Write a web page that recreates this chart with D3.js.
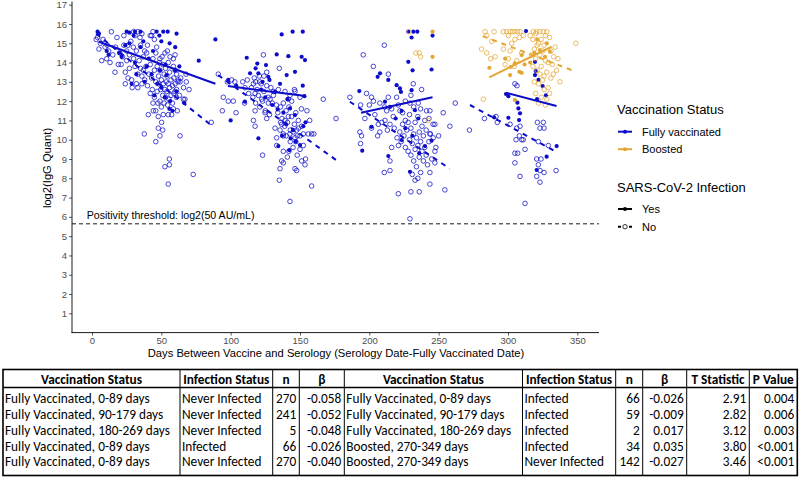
<!DOCTYPE html>
<html><head><meta charset="utf-8">
<script src="https://cdn.jsdelivr.net/npm/d3@7"></script>
<style>body{margin:0;background:#fff}</style>
</head><body>
<svg id="c" width="800" height="477" xmlns="http://www.w3.org/2000/svg"></svg>
<script>
// ---------- DATA ----------
const xTicks = [0, 50, 100, 150, 200, 250, 300, 350];
const yTicks = [1,2,3,4,5,6,7,8,9,10,11,12,13,14,15,16,17];
const thresholdValue = 5.64; // log2(50)
const thresholdLabel = "Positivity threshold: log2(50 AU/mL)";
const xTitle = "Days Between Vaccine and Serology (Serology Date-Fully Vaccinated Date)";
const yTitle = "log2(IgG Quant)";

// Fully vaccinated, not infected (hollow blue)
const fullyNoPoints = [
[3,15.2],[6,15.0],[8,15.2],[9.4,14.8],[14,15.6],[18,15.3],[7,14.1],[10.6,14.2],[13,14.0],[16.6,13.5],[12,14.6],[22,14.3],[25,14.1],[25,14.6],[29.8,14.8],[31,13.8],[28.6,13.1],[32,12.9],[33,12.7],[29,12.7],[36,13.3],[37,13.6],[38,14.6],[39.4,14.5],[42,15.4],[43,15.4],[44,15.6],[45,15.2],[46.6,14.8],[34.6,15.3],[49,14.2],[52.6,14.5],[54.3,14.6],[56.3,14.3],[58.7,14.2],[59.9,14.4],[58.7,13.8],[61,13.4],[62.3,13.1],[63.5,13.0],[67.8,13.4],[59.9,12.5],[61,12.2],[65.9,12.1],[58.7,11.6],[61.5,11.5],[57.5,11.3],[55,11.3],[51.4,11.3],[47.8,11.2],[44.2,11.5],[40.6,11.3],[50.2,10.9],[47.8,10.6],[51,10.5],[49,10.2],[37.7,10.3],[46,9.9],[63.5,10.2],[55.8,9.0],[52.6,8.6],[55.8,8.7],[73,8.2],[55,7.7],[67,12.1],[86,10.9],
[20,14.5],[21,13.9],[23,14.9],[24,13.5],[26,14.9],[27,14.4],[27,13.7],[28,15.1],[30,14.2],[31,15.4],[32,14.6],[33,13.4],[34,14.1],[35,14.9],[36,12.9],[37,14.3],[38,13.1],[39,13.8],[40,14.9],[41,13.4],[40,12.8],[35,13.7],[30,15.6],[33,15.6],[36,15.5],[26,13.2],[24,12.9],[23,15.4],[19,13.9],[17,14.8],[15,14.4],[11,14.9],[5,14.7],[4,15.3],
[42,13.9],[43,13.2],[43.5,12.6],[44,14.2],[45,13.6],[45,12.2],[46,13.0],[46,14.5],[47,12.5],[47,13.8],[47.5,11.9],[48,13.3],[48,12.9],[48.5,14.0],[49,12.0],[49,13.6],[49.5,12.6],[50,13.1],[50,11.7],[50.5,14.3],[51,12.3],[51,13.9],[51.5,12.9],[52,13.4],[52,11.9],[52.5,12.6],[53,13.7],[53,12.2],[53.5,13.0],[54,12.5],[54,13.3],[54.5,11.8],[55,12.9],[55,14.0],[55.5,12.1],[56,13.5],[56,12.7],[57,12.3],[57,13.1],[58,12.8],[58,11.9],[59,13.2],[59,12.4],[60,12.9],[60,13.6],[61,12.6],[62,13.0],[63,12.3],[64,13.2],[66,12.7],[68,13.0],[70,12.6],[44,11.9],[46,11.5],[42,12.4],
[91.1,13.4],[97.6,13.0],[100.7,13.1],[103,13.0],[94.7,12.2],[98.3,12.0],[101.9,12.0],[94,11.5],[103.9,11.4],[108.7,13.0],[110.3,12.7],[116.4,12.9],[123.6,14.4],[120.7,13.3],[117.6,12.4],[117.6,11.5],[116.4,11.0],[117.6,10.7],[122.4,12.1],[124.8,11.4],[126,11.1],[127.2,11.9],[128.4,12.1],[130.8,12.3],[134.4,12.6],[135.1,13.7],[139.2,12.5],[142.8,12.3],[146.4,12.5],[141.6,12.1],[132,10.6],[135.6,10.5],[138,10.2],[133.2,10.1],[136.8,10.8],[139.2,11.0],[141.6,11.2],[142.8,10.3],[146.4,10.1],[147.6,10.5],[150,10.2],[152.4,10.3],[156,10.3],[158.4,10.3],[148.8,11.0],[151.2,10.7],[152.4,9.7],[138,9.4],[140.9,9.1],[136.8,8.9],[138,8.8],[135.6,8.5],[146.4,8.5],[147.6,8.4],[151.2,8.9],[153.6,8.7],[135.1,7.9],[158.4,7.6],[142.8,6.8],[166.8,12.1],[176,11.1],[123,9.2],[133.2,9.7],
[115,12.7],[116,12.2],[117,13.2],[118,11.9],[119,12.6],[120,12.3],[121,11.7],[122,12.9],[123,12.0],[124,12.5],[125,11.5],[126,12.8],[127,12.2],[128,11.3],[129,12.7],[130,11.9],[118,13.0],[121,13.0],[124,13.3],[113,12.4],[112,13.1],[110,11.9],[126,13.5],[131,12.5],[133,11.8],[134,11.4],[136,11.7],[137,11.1],[138,11.9],[139,10.7],[140,11.5],[140,10.2],[141,10.9],[142,11.7],[143,10.5],[143,9.9],[144,11.2],[145,10.4],[145,9.6],[146,10.8],[147,11.4],[147,9.9],[148,10.2],[149,10.6],[150,9.5],[151,11.6],[144,12.0],[138,10.3],[136,10.9],[148,9.2],[142,9.4],[146,12.6],[150,12.2],[155,11.5],[157,11.0],[160,10.3],[154,9.0],
[186,12.2],[195.6,14.4],[202.9,13.8],[210.8,14.9],[213.7,13.4],[193.7,11.8],[196.8,11.1],[193.2,10.4],[194.4,10.2],[193.7,9.8],[201.6,10.6],[206.5,10.8],[207.6,10.4],[211.3,11.0],[214.9,10.8],[217.3,11.2],[220.9,11.8],[222.1,11.5],[201.6,12.2],[207.6,11.9],[212.5,11.5],[216.1,11.6],[213.7,12.2],[219.7,12.2],[231.7,12.9],[237.7,12.6],[229.3,11.9],[235.3,11.9],[241.3,11.5],[243.7,11.5],[253.3,11.4],[247.3,10.8],[243.7,10.3],[246.1,10.1],[258.1,10.7],[247.3,9.4],[247.3,8.8],[243.7,8.3],[243.7,7.7],[254.5,7.4],[236,7.3],[230,7.3],[220.9,7.2],[214.9,8.4],[210.8,8.3],[214.9,8.9],[216.1,9.6],[229.3,5.9],
[218,10.6],[220,10.1],[221,9.7],[222,10.4],[223,9.9],[224,10.8],[225,10.2],[226,9.6],[226,11.0],[227,10.5],[228,9.4],[228,10.9],[229,10.0],[230,9.2],[230,10.6],[231,9.8],[232,10.3],[232,8.9],[233,9.5],[233,10.9],[234,10.1],[234,8.6],[235,9.7],[235,11.2],[236,9.1],[236,10.4],[237,9.9],[237,8.3],[238,10.7],[238,9.4],[239,8.9],[239,10.2],[240,9.6],[240,11.0],[241,9.2],[241,10.5],[242,8.7],[243,9.9],[244,10.3],[245,9.0],[231,8.2],[233,7.9],[235,8.0],[237,11.6],[229,11.3],[224,11.4],[226,12.0],[230,12.3],[232,11.7],[243,11.1],[246,10.8],[250,10.2],[248,9.6],[204,11.3],[206,10.2],[209,10.9],[211,11.7],[213,10.5],[200,11.8],[198,12.4],[203,12.0],
[272.2,10.5],[283,11.1],[291.4,11.2],[292.3,10.9],[305,12.9],[306.5,12.8],[301.5,10.8],[306.3,10.6],[308.7,10.7],[305.8,10.0],[309.9,10.0],[311,10.0],[308.2,10.2],[321.2,10.9],[325.5,10.9],[323.1,10.6],[326,10.6],[329.1,9.7],[305,9.3],[307,9.3],[312.3,9.5],[305,8.8],[308.7,8.1],[320.7,9.0],[323.8,9.0],[321.9,8.7],[323.1,8.4],[326,8.3],[323.1,7.8],[320.7,8.1],[334.7,8.4],[312.3,6.7],[321.9,9.9],[262,11.9]
];

// Fully vaccinated, infected (filled blue)
const fullyYesPoints = [
[4,15.6],[5,15.5],[25,15.6],[27,15.55],[31,15.6],[35,15.6],[30,15.4],[46.6,15.6],[48.6,15.4],[51.4,15.6],[54.6,15.6],[61,15.5],[50,15.1],[56,15.0],[60,14.8],[27,15.0],[10.6,14.6],[19.7,14.5],[21.4,14.3],[31,14.0],[39.4,13.8],[43,13.4],[49,13.6],[53.8,13.35],[32,13.4],[28.6,12.9],[50,12.7],[52.6,12.2],[56.3,12.0],[55.8,11.6],[61,12.5],[66.6,11.9],[77,14.1],[89,15.2],[60,13.6],[35,14.8],[38,13.0],[44,14.6],[47,12.9],[53,13.9],[45,12.3],[41,14.2],[24,14.9],[12,14.4],[37,15.1],[58,11.5],[63,13.8],
[136.8,15.46],[144.7,15.6],[152,15.6],[111.6,14.25],[133.2,14.42],[141.6,14.33],[151.2,14.3],[153.6,14.13],[119.2,13.95],[125.5,13.87],[114,13.44],[120,13.44],[135.6,12.9],[140.4,13.35],[146.4,13.52],[127.2,13.26],[152,12.8],[153.2,12.26],[98.3,13.1],[110.3,11.97],[132,12.48],[133.9,11.57],[138,11.4],[142.8,11.62],[146.4,11.28],[152.4,10.7],[150,9.72],[134.4,9.67],[142.3,9.46],[143.3,10.07],[120,10.07],[100,11.0],[122,12.6],[125,12.2],[130,11.8],[140,10.8],[145,10.5],[137,10.2],[118,13.7],[128,13.1],[141,12.1],[147,9.9],[154,10.9],[123,13.0],[104,12.8],
[228.1,15.6],[231.7,15.6],[234.6,15.6],[230.5,15.3],[245.6,15.4],[244.9,13.64],[228.1,14.04],[231.2,13.6],[207.7,13.44],[206,13.26],[213.7,13.1],[219.7,12.83],[222.1,12.66],[222.8,12.48],[230.5,12.57],[192.8,12.52],[211.3,11.97],[214.9,11.7],[223.3,11.5],[232.9,11.53],[235.3,11.1],[201.6,10.67],[223.3,9.98],[213.7,9.15],[194.9,9.43],[229.3,8.34],[244.9,9.95],[240.1,9.67],[226,10.6],[231,10.2],[236,9.3],[219,11.1],
[313,15.63],[319.5,14.04],[320,13.56],[319.5,13.35],[325,12.78],[298.6,12.37],[300.3,12.26],[306.8,11.92],[307.5,11.62],[308.7,11.37],[308,11.02],[300.3,11.14],[290,11.16],[327.4,12.3],[335.1,9.67],[327.9,9.12],[320.7,8.43],[322,13.1],[321,12.1]
];

// Boosted, not infected (hollow gold)
const boostedNoPoints = [
[228.8,15.6],[233.6,14.5],[236,14.5],[237,14.3],[242.5,11.0],
[283.5,15.6],[290,15.6],[296.7,15.6],[299,15.6],[301.5,15.6],[303.4,15.6],[305,15.6],[306.8,15.6],[308.7,15.6],[318.3,15.6],[320.7,15.6],[323,15.6],[325.5,15.6],[328,15.6],[284.7,15.4],[288.3,15.1],[300.3,15.4],[302.7,15.0],[305,15.2],[308.2,15.3],[311.1,15.4],[296.7,14.7],[301.5,14.6],[281,14.7],[284.7,14.5],[287.5,14.2],[290.7,14.3],[300.3,14.2],[306.3,14.1],[309.9,14.5],[304.4,13.8],[297.9,13.9],[282.2,12.1],[337.5,13.0],[349,15.0],[332.7,13.4],
[318,15.2],[319,14.7],[320,14.2],[321,13.6],[322,15.0],[323,14.4],[324,13.8],[325,13.1],[326,14.9],[327,14.1],[328,13.5],[329,12.7],[330,15.3],[331,14.6],[332,13.9],[319,13.0],[320,12.4],[322,12.9],[324,12.2],[326,12.6],[328,12.1],[323,13.4],[325,14.6],[327,15.4],[329,14.0],[321,14.9],[318,13.8],[317,14.4],[331,13.2],[333,14.3],[334,14.8],[316,15.4],[324,15.2],[322,11.9],[327,11.8],[330,12.4],[335,13.6],[336,14.2],[320,15.5],[326,13.3]
];

// Boosted, infected (filled gold)
const boostedYesPoints = [
[245.6,15.6],[245.6,14.3],
[286.6,13.73],[302,13.78],[301.5,13.35],[308.2,13.52],[309.9,13.47],[305,13.96],[319,14.51],[323,14.65],[326.7,14.3],[330.3,14.56],[305,12.06],[309.9,14.39],[298,14.2],[316,14.0],[328,15.0],[321,15.2],[312,13.9]
];

// Regression fits: [vaccination status, infection, day0, value0, day1, value1]
const regressionFits = [
["Fully vaccinated","No",3,15.5,86,10.75],
["Fully vaccinated","Yes",5,15.08,89,12.9],
["Fully vaccinated","No",91,13.35,176,8.95],
["Fully vaccinated","Yes",98,12.78,154,12.27],
["Fully vaccinated","No",186,11.97,258,8.5],
["Fully vaccinated","Yes",194,11.4,245.6,12.2],
["Fully vaccinated","No",272.6,11.8,334.6,9.38],
["Fully vaccinated","Yes",298.6,12.44,335,11.75],
["Boosted","No",281.8,15.37,347,13.58],
["Boosted","Yes",286.5,13.23,331.5,14.82]
];

const vaxLegend = ["Fully vaccinated", "Boosted"];
const infLegend = ["Yes", "No"];

const tableHeader = ["Vaccination Status","Infection Status","n","β","Vaccination Status","Infection Status","n","β","T Statistic","P Value"];
const tableRows = [
["Fully Vaccinated, 0-89 days","Never Infected","270","-0.058","Fully Vaccinated, 0-89 days","Infected","66","-0.026","2.91","0.004"],
["Fully Vaccinated, 90-179 days","Never Infected","241","-0.052","Fully Vaccinated, 90-179 days","Infected","59","-0.009","2.82","0.006"],
["Fully Vaccinated, 180-269 days","Never Infected","5","-0.048","Fully Vaccinated, 180-269 days","Infected","2","0.017","3.12","0.003"],
["Fully Vaccinated, 0-89 days","Infected","66","-0.026","Boosted, 270-349 days","Infected","34","0.035","3.80","<0.001"],
["Fully Vaccinated, 0-89 days","Never Infected","270","-0.040","Boosted, 270-349 days","Never Infected","142","-0.027","3.46","<0.001"]
];

// ---------- DRAWING ----------
const BLUE = "#0c0cc9", GOLD = "#e4a734";
const colorOf = d3.scaleOrdinal().domain(vaxLegend).range([BLUE, GOLD]);
const svg = d3.select("#c");
const x = d3.scaleLinear().domain([0, 350]).range([92, 577.3]);
const y = d3.scaleLinear().domain([0, 17]).range([332.6, 4.7]);
const AX = "Liberation Sans, Arial, sans-serif";

// threshold
svg.append("line").attr("x1", 72).attr("x2", 599)
  .attr("y1", y(thresholdValue)).attr("y2", y(thresholdValue))
  .attr("stroke", "#000").attr("stroke-width", 0.9).attr("stroke-dasharray", "4,3");
svg.append("text").attr("x", x(-3.8)).attr("y", y(thresholdValue) - 5)
  .attr("font-family", AX).attr("font-size", 10.6).attr("fill", "#000").text(thresholdLabel);

// points
const gp = svg.append("g");
function hollow(data, color) {
  gp.append("g").selectAll("circle").data(data).enter().append("circle")
    .attr("cx", d => x(d[0])).attr("cy", d => y(d[1])).attr("r", 2.3)
    .attr("fill", "none").attr("stroke", color).attr("stroke-width", 0.75);
}
function filled(data, color) {
  gp.append("g").selectAll("circle").data(data).enter().append("circle")
    .attr("cx", d => x(d[0])).attr("cy", d => y(d[1])).attr("r", 2.1)
    .attr("fill", color);
}
hollow(fullyNoPoints, BLUE);
filled(fullyYesPoints, BLUE);
hollow(boostedNoPoints, GOLD);
filled(boostedYesPoints, GOLD);

// regression lines
svg.append("g").selectAll("line").data(regressionFits).enter().append("line")
  .attr("x1", d => x(d[2])).attr("y1", d => y(d[3]))
  .attr("x2", d => x(d[4])).attr("y2", d => y(d[5]))
  .attr("stroke", d => colorOf(d[0])).attr("stroke-width", 2)
  .attr("stroke-dasharray", d => d[1] === "No" ? "5,5" : null);

// axes
const yAxis = svg.append("g").attr("transform", "translate(72,0)")
  .call(d3.axisLeft(y).tickValues(yTicks).tickSize(3).tickSizeOuter(0).tickPadding(2));
const xAxis = svg.append("g").attr("transform", "translate(0,332.6)")
  .call(d3.axisBottom(x).tickValues(xTicks).tickSize(3).tickSizeOuter(0).tickPadding(2));
[yAxis, xAxis].forEach(g => {
  g.select(".domain").remove();
  g.selectAll(".tick line").attr("stroke", "#333").attr("stroke-width", 0.8);
  g.selectAll(".tick text").attr("fill", "#4d4d4d").attr("font-size", 9.5).attr("font-family", AX);
});
svg.append("line").attr("x1", 72).attr("x2", 72).attr("y1", 333).attr("y2", 1.5).attr("stroke", "#000").attr("stroke-width", 0.9);
svg.append("line").attr("x1", 71.5).attr("x2", 599).attr("y1", 332.6).attr("y2", 332.6).attr("stroke", "#000").attr("stroke-width", 0.9);

svg.append("text").attr("x", 336).attr("y", 357).attr("text-anchor", "middle")
  .attr("font-family", AX).attr("font-size", 11.2).attr("fill", "#000").text(xTitle);
svg.append("text").attr("transform", "translate(51,168) rotate(-90)").attr("text-anchor", "middle")
  .attr("font-family", AX).attr("font-size", 11.2).attr("fill", "#000").text(yTitle);

// legend
const lg = svg.append("g").attr("font-family", AX);
lg.append("text").attr("x", 617).attr("y", 114).attr("font-size", 13).text("Vaccination Status");
const vItems = lg.selectAll("g.v").data(vaxLegend).enter().append("g")
  .attr("transform", (d, i) => `translate(0,${131.7 + i * 17.5})`);
vItems.append("line").attr("x1", 618).attr("x2", 632).attr("stroke", d => colorOf(d)).attr("stroke-width", 2);
vItems.append("circle").attr("cx", 625).attr("r", 2).attr("fill", d => colorOf(d));
vItems.append("text").attr("x", 642).attr("y", 4).attr("font-size", 11).text(d => d);

lg.append("text").attr("x", 617).attr("y", 192).attr("font-size", 13).text("SARS-CoV-2 Infection");
const iItems = lg.selectAll("g.i").data(infLegend).enter().append("g")
  .attr("transform", (d, i) => `translate(0,${209 + i * 17.7})`);
iItems.append("line").attr("x1", 618).attr("x2", 632).attr("stroke", "#000").attr("stroke-width", 2)
  .attr("stroke-dasharray", d => d === "No" ? "3,2.5" : null);
iItems.append("circle").attr("cx", 625).attr("r", d => d === "No" ? 2.2 : 2)
  .attr("fill", d => d === "No" ? "#fff" : "#000").attr("stroke", "#000").attr("stroke-width", d => d === "No" ? 0.8 : 0);
iItems.append("text").attr("x", 642).attr("y", 4).attr("font-size", 11).text(d => d);

// table
const colEdges = [3, 180, 272.7, 299.3, 344.3, 522.5, 615.7, 642.7, 686.7, 749.3, 797.3];
const colAlign = ["start","start","end","end","start","start","end","end","end","end"];
const TF = "Carlito, Calibri, Lato, sans-serif";
const tTop = 369.5, hBot = 387.5, tBot = 475.5;
const tg = svg.append("g");
tg.append("rect").attr("x", colEdges[0]).attr("y", tTop).attr("width", colEdges[10] - colEdges[0]).attr("height", tBot - tTop)
  .attr("fill", "none").attr("stroke", "#000").attr("stroke-width", 1.6);
tg.append("line").attr("x1", colEdges[0]).attr("x2", colEdges[10]).attr("y1", hBot).attr("y2", hBot).attr("stroke", "#000").attr("stroke-width", 1.4);
tg.selectAll("line.v").data(colEdges.slice(1, 10)).enter().append("line")
  .attr("x1", d => d).attr("x2", d => d).attr("y1", tTop).attr("y2", tBot).attr("stroke", "#000").attr("stroke-width", 1);
tg.selectAll("text.h").data(tableHeader).enter().append("text")
  .attr("x", (d, i) => (colEdges[i] + colEdges[i + 1]) / 2).attr("y", 383.8)
  .attr("text-anchor", "middle").attr("font-family", TF).attr("font-weight", "bold").attr("font-size", 13.3).text(d => d);
tableRows.forEach((row, r) => {
  tg.selectAll(null).data(row).enter().append("text")
    .attr("x", (d, i) => colAlign[i] === "end" ? colEdges[i + 1] - 3 : colEdges[i] + 2)
    .attr("y", 403 + r * 15.85)
    .attr("text-anchor", (d, i) => colAlign[i])
    .attr("font-family", TF).attr("font-size", 13.3).text(d => d);
});
</script>
</body></html>
